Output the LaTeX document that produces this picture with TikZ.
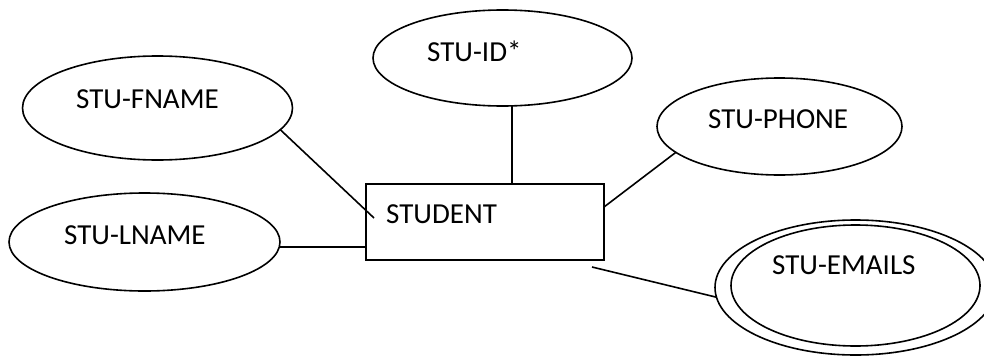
\documentclass[tikz,border=0pt]{standalone}
\usepackage{fontspec}
\setmainfont{Carlito}
\usetikzlibrary{shapes.geometric}

\tikzset{
  attr/.style={draw, ellipse, line width=1.6pt, inner sep=0pt, outer sep=0pt},
  entitybox/.style={draw, rectangle, line width=1.6pt, inner sep=0pt, outer sep=0pt},
  lbl/.style={anchor=base west, inner sep=0pt, font=\fontsize{29}{35}\selectfont},
  link/.style={line width=1.6pt}
}

\begin{document}
\begin{tikzpicture}[x=1pt, y=-1pt]
  \useasboundingbox (0,0) rectangle (984,356);

  % entity
  \node[entitybox, minimum width=238pt, minimum height=76pt] (student) at (485,222) {};
  \node[lbl] (studenttxt) at (386,223) {STUDENT};

  % attributes
  \node[attr, minimum width=270pt, minimum height=104pt] (fname) at (157.5,108) {};
  \node[lbl] (fnametxt) at (76,108) {STU-FNAME};

  \node[attr, minimum width=259pt, minimum height=96pt] (id) at (502.5,58) {};
  \node[lbl] (idtxt) at (427,61) {STU-ID*};

  \node[attr, minimum width=245pt, minimum height=97pt] (phone) at (779.5,126.5) {};
  \node[lbl] (phonetxt) at (708,128) {STU-PHONE};

  \node[attr, minimum width=271pt, minimum height=98pt] (lname) at (144.5,242) {};
  \node[lbl] (lnametxt) at (64,244) {STU-LNAME};

  % multivalued attribute: double ellipse
  \node[attr, minimum width=281pt, minimum height=135pt] (emails) at (855.5,287.5) {};
  \node[attr, minimum width=249pt, minimum height=121pt] (emailsin) at (855.5,285.5) {};
  \node[lbl] (emailstxt) at (772,274) {STU-EMAILS};

  % connector end points
  \coordinate (fnameend) at (374,218);
  \coordinate (idfoot) at (512,106);
  \coordinate (phoneend) at (604,207);
  \coordinate (emailsend) at (592,267);

  % connectors
  \draw[link] (fname.-10) -- (fnameend);
  \draw[link] (idfoot) -- (idfoot |- student.north);
  \draw[link] (phone.194) -- (phoneend);
  \draw[link] (lname.-2) -- (lname.-2 -| student.west);
  \draw[link] (emailsend) -- (emails.184);
\end{tikzpicture}
\end{document}
